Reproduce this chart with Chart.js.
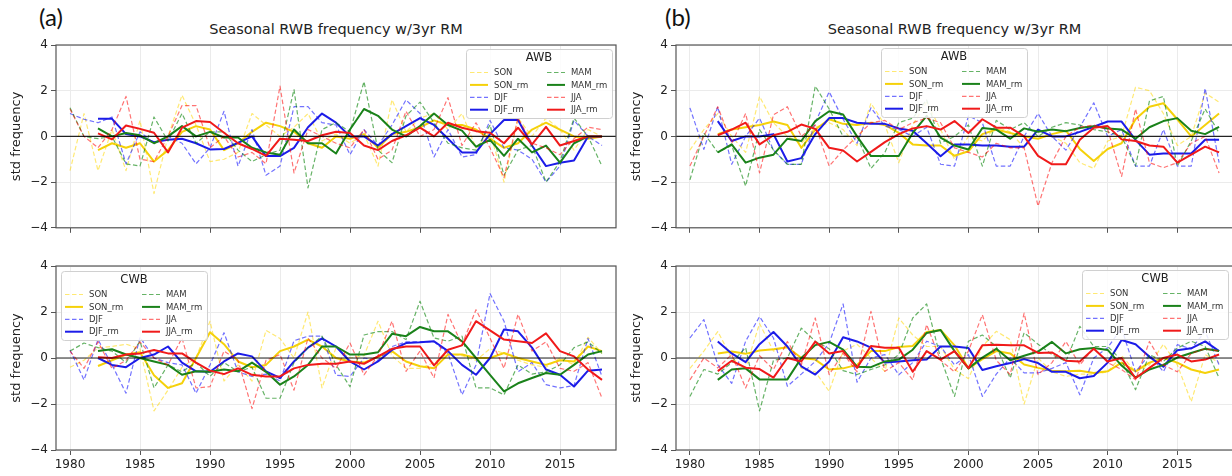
<!DOCTYPE html>
<html>
<head>
<meta charset="utf-8">
<script src="https://cdn.jsdelivr.net/npm/chart.js@4"></script>
<style>
  html, body { margin: 0; padding: 0; background: #fff; overflow: hidden; }
  #page { position: relative; width: 1232px; height: 476px; overflow: hidden; }
  canvas { position: absolute; }
  .panel-tag { position: absolute; font-family: Lato, "Open Sans", sans-serif; font-size: 24px; color: #111; }
  .panel-title { position: absolute; text-align: center; font-family: "DejaVu Sans", sans-serif; font-size: 14.5px; color: #222; }
</style>
</head>
<body>
<div id="page">
  <div class="panel-tag" style="left:39px; top:2px;">(a)</div>
  <div class="panel-tag" style="left:665px; top:2px;">(b)</div>
  <div class="panel-title" style="left:56px; width:560px; top:21px;">Seasonal RWB frequency w/3yr RM</div>
  <div class="panel-title" style="left:676px; width:557px; top:21px;">Seasonal RWB frequency w/3yr RM</div>
  <canvas id="awbA" width="620" height="238" style="left:0; top:0;"></canvas>
  <canvas id="awbB" width="620" height="238" style="left:620px; top:0;"></canvas>
  <canvas id="cwbA" width="620" height="238" style="left:0; top:238px;"></canvas>
  <canvas id="cwbB" width="620" height="238" style="left:620px; top:238px;"></canvas>
</div>
<script>
// years of the raw series; the 3yr running means start at 1982
const years = [1980,1981,1982,1983,1984,1985,1986,1987,1988,1989,
               1990,1991,1992,1993,1994,1995,1996,1997,1998,1999,
               2000,2001,2002,2003,2004,2005,2006,2007,2008,2009,
               2010,2011,2012,2013,2014,2015,2016,2017,2018];
const tickYears = [1980, 1985, 1990, 1995, 2000, 2005, 2010, 2015];
const yTicks = [-4, -2, 0, 2, 4];
const seasons = ["SON", "DJF", "MAM", "JJA"];

// (a) AWB
const a_awb_son = [-1.5,1.0,-1.5,0.3,-1.5,0.7,-2.5,0.0,1.8,0.5,-1.1,-1.0,-0.7,1.0,0.5,0.0,0.4,1.0,-0.2,0.1,-0.3,0.1,-1.3,1.6,0.2,0.8,1.0,0.3,1.0,-0.5,0.2,-2.0,0.8,0.0,0.8,0.3,-0.6,0.3,0.0];
const a_awb_son_rm = [-0.6,-0.3,-0.5,-0.3,-1.1,-0.6,0.2,0.45,0.3,-0.6,-0.3,0.2,0.6,0.45,0.2,-0.3,-0.5,0.0,-0.1,0.1,-0.5,0.1,0.2,0.4,0.7,0.5,0.5,0.3,-0.1,-0.5,-0.3,0.3,0.6,0.3,0.0,-0.1,0.0];
const a_awb_djf = [1.0,0.75,0.6,0.85,-1.2,0.2,-0.3,0.0,-0.3,-1.2,-0.5,1.1,-1.3,0.3,-1.7,-1.3,1.3,1.3,0.6,0.5,-0.8,0.3,-0.4,0.5,1.6,1.0,-0.9,0.3,-0.9,-0.8,0.7,-0.5,-0.6,-1.0,-2.0,-1.3,0.7,0.0,-0.4];
const a_awb_djf_rm = [0.77,0.77,0.1,0.0,-0.25,-0.15,-0.1,-0.3,-0.57,-0.55,-0.28,0.0,-0.86,-0.86,-0.5,0.4,1.0,0.6,0.0,0.0,-0.4,0.1,0.45,0.8,0.5,-0.1,-0.7,-0.7,0.1,0.72,0.72,-0.4,-1.3,-1.15,-1.05,0.0,0.0];
const a_awb_mam = [1.25,0.0,-0.1,0.0,-1.2,-1.3,0.85,-0.2,1.0,-0.3,0.2,0.2,-0.6,-1.1,-0.8,-0.6,2.05,-2.25,0.3,0.6,0.2,2.4,-0.6,-1.15,0.9,1.5,0.6,-0.3,-0.5,-0.6,0.5,-1.7,-0.6,-0.4,-2.0,-1.1,0.8,0.0,-1.3];
const a_awb_mam_rm = [0.35,0.0,0.15,0.05,-0.3,0.0,0.45,0.0,0.2,-0.05,-0.05,-0.5,-0.7,-0.8,0.3,-0.3,-0.3,-0.75,0.3,1.2,0.9,0.3,0.0,0.45,1.0,0.5,0.25,-0.45,-0.15,-0.85,-0.1,-0.7,-0.4,-1.15,-0.3,0.0,0.0];
const a_awb_jja = [1.2,0.0,-0.5,0.3,1.75,-1.0,-1.1,0.0,1.35,1.35,-0.5,0.0,-0.9,-0.7,-1.2,2.2,-1.6,0.3,0.0,-0.3,-0.5,0.3,-1.0,-0.6,1.1,0.0,0.3,1.7,-0.4,0.6,-0.5,-1.8,0.8,-0.3,-0.5,-0.8,-0.1,0.4,0.3];
const a_awb_jja_rm = [0.13,-0.13,0.48,0.33,0.16,-0.7,0.38,0.67,0.63,0.16,-0.3,-0.55,-0.85,-0.1,-0.15,-0.2,0.05,0.2,0.15,-0.4,-0.6,-0.2,0.05,0.38,0.0,0.6,0.38,0.23,0.16,-0.3,0.38,-0.35,0.42,-0.4,-0.2,0.0,0.0];

// (b) AWB
const b_awb_son = [-0.6,0.3,1.0,0.0,-0.7,1.75,0.6,0.0,-0.3,0.4,0.6,0.3,-0.4,1.45,0.5,-1.15,0.5,1.5,0.3,-1.0,0.0,-0.2,0.4,0.2,-0.5,0.3,0.0,-0.3,-1.15,-1.4,-0.2,0.0,2.15,2.0,1.0,-0.4,0.0,1.9,1.5];
const b_awb_son_rm = [0.1,0.3,0.4,0.5,0.65,0.5,-0.5,0.3,0.75,0.55,0.5,0.6,0.5,0.15,-0.35,-0.4,-0.4,-0.85,-0.65,0.1,0.3,0.15,0.0,-0.1,0.1,0.25,-0.55,-1.08,-0.55,-0.3,0.75,1.3,1.45,0.75,0.0,0.5,1.0];
const b_awb_djf = [1.25,-0.57,1.3,-1.22,0.0,0.8,-0.6,-1.22,-1.22,0.6,1.95,0.75,-0.3,1.25,0.45,0.3,0.0,0.4,-1.22,-1.3,0.9,0.6,-1.3,-1.3,0.0,1.0,0.0,-0.6,0.4,1.47,0.0,0.3,-1.3,-1.3,0.3,-1.3,-1.3,2.1,-1.15];
const b_awb_djf_rm = [0.67,-0.2,0.0,0.0,0.1,-1.1,-0.95,0.1,0.8,0.8,0.6,0.55,0.55,0.35,0.25,-0.3,-0.87,-0.35,-0.35,-0.4,-0.4,-0.45,-0.45,0.3,0.0,0.0,0.2,0.42,0.65,0.65,-0.15,-0.8,-0.75,-0.75,-0.75,-0.15,-0.15];
const b_awb_mam = [-1.9,0.15,-0.7,-0.4,-2.17,0.3,-0.6,-1.22,-1.22,2.2,1.2,0.0,0.0,-1.4,-0.7,0.6,0.8,1.6,-0.3,0.0,0.5,-1.3,0.7,0.3,0.6,0.0,0.4,0.6,0.5,0.3,0.2,0.0,-1.3,1.55,1.75,-1.3,-0.2,1.2,0.15];
const b_awb_mam_rm = [-0.7,-0.35,-1.15,-0.93,-0.8,-0.1,-0.2,0.67,1.1,0.96,0.0,-0.86,-0.86,-0.86,0.15,0.9,-0.05,-0.4,-0.57,0.37,0.3,-0.1,0.35,0.2,0.3,0.23,0.37,0.45,0.35,0.3,-0.1,0.4,0.67,0.8,0.25,0.1,0.42];
const b_awb_jja = [-1.3,0.0,1.3,-0.3,1.0,-1.6,0.95,1.3,0.0,0.5,-1.3,-0.6,0.0,0.6,0.7,0.3,0.6,0.8,0.6,-0.5,-0.7,-0.9,-0.3,-0.5,-0.5,-3.05,-1.15,0.0,0.4,0.5,0.3,-1.75,1.2,-1.15,-1.37,-1.15,-0.3,0.0,-1.6];
const b_awb_jja_rm = [0.05,0.3,0.6,-0.35,0.05,0.2,0.52,0.33,-0.5,-0.62,-1.1,-0.68,-0.25,0.1,0.35,0.45,0.3,0.67,0.15,0.75,0.38,0.38,0.0,-0.85,-1.22,-1.22,-0.15,0.38,0.45,-0.13,-0.2,-0.4,-0.45,-1.15,-0.8,-0.45,-0.7];

// (a) CWB
const a_cwb_son = [-0.4,-0.1,0.45,0.5,0.6,0.4,-2.3,-1.4,-0.4,0.0,1.6,-1.0,-0.3,-1.0,1.2,0.85,0.0,2.0,-1.3,0.45,0.0,0.1,1.6,0.1,-0.45,-0.45,-0.2,0.2,0.1,-0.1,0.4,0.2,-0.1,-0.3,-0.4,0.0,-0.3,0.9,0.2];
const a_cwb_son_rm = [-0.35,-0.1,0.15,0.25,-0.75,-1.3,-1.1,0.0,1.12,0.6,-0.15,-0.4,-0.3,0.3,0.5,0.8,0.5,0.0,-0.15,-0.2,0.05,0.3,-0.15,-0.36,-0.45,0.15,0.15,0.0,0.0,0.22,0.0,-0.15,-0.3,-0.1,-0.15,0.5,0.3];
const a_cwb_djf = [0.35,-0.95,0.8,-0.3,-1.53,0.9,0.0,-0.2,-0.3,-1.53,-0.3,1.1,-0.6,-0.8,-0.7,-1.0,0.75,0.95,0.95,-0.75,-0.8,0.0,-0.1,0.5,0.7,0.7,0.7,0.2,-1.6,-0.3,2.8,1.6,-0.6,-0.2,-1.16,-1.3,-1.2,0.85,-0.8];
const a_cwb_djf_rm = [0.0,-0.3,-0.4,0.0,0.15,0.5,-0.2,-0.58,-0.6,-0.15,0.2,0.07,-0.58,-0.87,-0.15,0.45,0.85,0.5,-0.15,-0.5,-0.15,0.35,0.65,0.68,0.73,0.3,-0.3,-0.73,0.0,1.24,1.16,0.45,-0.5,-0.73,-1.24,-0.55,-0.5];
const a_cwb_mam = [0.3,0.65,0.45,0.3,-0.2,0.73,-1.3,-0.3,-0.6,-0.2,-0.8,-0.2,-0.6,-0.4,-1.75,-1.75,-0.2,0.45,0.95,-0.3,-1.25,1.0,1.15,1.15,0.8,2.47,0.87,0.73,0.95,-1.3,-1.3,-1.6,-0.3,-0.7,-0.6,-0.3,0.45,0.7,0.2];
const a_cwb_mam_rm = [0.3,0.38,0.15,0.0,-0.15,-0.3,-0.73,-0.58,-0.6,-0.5,-0.58,-0.2,-0.6,-1.16,-0.8,-0.3,0.5,0.5,0.15,0.15,0.25,1.05,0.95,1.35,1.16,1.16,0.73,0.0,-0.73,-1.45,-1.1,-0.87,-0.65,-0.73,-0.3,0.15,0.3];
const a_cwb_jja = [0.3,-0.45,0.7,-0.45,-0.1,0.7,0.0,-0.3,0.87,-1.3,-1.25,0.3,-0.1,-2.2,-0.1,0.15,-1.4,0.87,0.0,-0.45,0.65,-0.73,0.1,1.6,-0.58,0.3,-0.87,1.9,0.58,2.1,0.87,-0.45,1.9,0.3,0.7,-0.45,-0.58,-0.2,-1.75];
const a_cwb_jja_rm = [0.03,0.0,0.15,0.2,0.35,0.2,0.2,-0.2,-0.55,-0.7,-0.45,-0.73,-0.8,-0.8,-0.45,-0.3,-0.25,-0.25,-0.15,-0.25,0.07,0.4,0.5,0.5,-0.32,0.36,0.55,1.6,1.2,0.8,0.73,0.65,1.07,0.3,0.07,-0.5,-0.95];

// (b) CWB
const b_cwb_son = [-0.45,0.3,1.15,0.0,-0.45,1.5,0.3,0.5,-0.45,-0.6,-1.45,0.3,0.6,0.0,-0.58,1.74,1.0,0.5,0.5,-0.5,-0.9,0.5,1.16,0.8,-2.0,0.0,-0.6,-0.8,-0.7,-0.7,-0.6,0.1,-0.6,-0.3,0.6,-0.3,-1.9,0.15,-0.2];
const b_cwb_son_rm = [0.2,0.28,0.18,0.33,0.38,0.47,0.0,-0.07,-0.5,-0.45,-0.3,0.3,0.3,0.48,0.52,1.13,1.22,0.55,-0.45,-0.05,0.3,0.2,-0.28,-0.43,-0.55,-0.58,-0.55,-0.65,-0.58,-0.2,-0.58,-0.2,0.0,-0.2,-0.5,-0.65,-0.5];
const b_cwb_djf = [0.87,1.67,-0.3,-1.1,0.73,1.8,0.87,-1.23,-0.7,-0.15,0.65,2.35,-1.05,0.0,0.15,-0.73,-0.2,0.73,0.5,-0.3,0.15,-1.67,-0.7,0.0,-0.65,-0.65,-0.45,-0.2,-1.6,0.0,0.45,1.3,-0.6,0.15,-0.6,0.58,0.4,1.16,-0.3];
const b_cwb_djf_rm = [0.72,0.2,-0.18,0.6,1.13,0.5,-0.36,-0.72,-0.15,0.9,0.72,0.45,-0.2,-0.15,-0.1,-0.07,0.5,0.5,0.43,-0.52,-0.36,-0.22,-0.05,-0.22,-0.6,-0.6,-0.88,-0.78,-0.2,0.78,0.6,0.05,-0.38,0.34,0.42,0.72,0.3];
const b_cwb_mam = [-1.67,-0.5,-0.7,-0.2,0.45,-2.3,-0.1,0.0,1.3,0.73,0.4,-0.55,-0.72,-0.5,-0.3,0.15,1.74,2.35,0.0,-1.67,0.73,1.0,0.5,-0.87,1.1,0.6,0.15,-0.15,1.38,0.5,0.5,-0.1,-1.38,0.15,-0.15,0.43,0.73,0.5,-0.87];
const b_cwb_mam_rm = [-0.95,-0.5,-0.45,-0.93,-0.93,-0.93,0.0,0.56,0.7,0.36,-0.38,-0.4,-0.15,-0.07,0.36,1.09,1.22,0.3,-0.45,0.02,0.4,-0.1,0.1,0.28,0.7,0.2,0.38,0.43,0.35,-0.33,-0.85,-0.5,-0.3,0.02,0.22,0.4,0.3];
const b_cwb_jja = [-0.95,0.0,-0.43,0.15,-1.3,0.1,-0.5,0.72,-0.3,1.74,-0.72,0.2,-0.6,2.03,-0.58,-0.2,-0.95,1.45,-0.1,-0.6,0.3,1.88,-0.1,-0.72,1.95,-0.72,-0.2,0.72,-0.3,0.43,-0.2,-0.5,-0.95,0.72,-0.3,-0.6,0.2,0.4,0.3];
const b_cwb_jja_rm = [-0.57,-0.12,-0.42,-0.48,-0.85,0.0,-0.15,0.71,0.2,0.3,-0.43,0.52,0.45,0.45,-0.6,0.3,-0.07,0.3,-0.44,0.55,0.58,0.55,0.55,0.22,0.24,-0.12,-0.15,0.4,-0.15,0.0,-0.88,-0.43,0.0,0.15,-0.15,-0.07,0.15];

// raw = dashed + faded, rm = solid
const seasonColors = {
    SON: { raw: "rgba(255, 215, 0, 0.55)", rm: "#f5d10a" },
    DJF: { raw: "rgba(20, 20, 255, 0.6)",  rm: "#1c1ce8" },
    MAM: { raw: "rgba(0, 128, 0, 0.6)",    rm: "#1a821a" },
    JJA: { raw: "rgba(255, 0, 0, 0.55)",   rm: "#f01a1a" }
};

function toPoints(values, startYear) {
    const offset = years.indexOf(startYear);
    return values.map((v, i) => ({ x: years[i + offset], y: v }));
}

function buildDatasets(series) {
    // legend order (column-wise, 2 cols): SON, SON_rm, DJF, DJF_rm, MAM, MAM_rm, JJA, JJA_rm
    const out = [];
    seasons.forEach(s => {
        const c = seasonColors[s];
        out.push({
            label: s,
            data: toPoints(series[s][0], 1980),
            borderColor: c.raw,
            borderWidth: 1.2,
            borderDash: [4.5, 2.5]
        });
        out.push({
            label: s + "_rm",
            data: toPoints(series[s][1], 1982),
            borderColor: c.rm,
            borderWidth: 2
        });
    });
    // later series on top, like matplotlib
    out.forEach((d, i) => { d.order = out.length - i; });
    return out;
}

// frame, zero line and the boxed legend drawn inside the axes
const axesDecor = {
    id: "axesDecor",
    afterDatasetsDraw(chart) {
        const { ctx, chartArea: a, scales } = chart;
        const y0 = scales.y.getPixelForValue(0);
        ctx.save();
        ctx.strokeStyle = "rgba(0,0,0,0.85)";
        ctx.lineWidth = 1.2;
        ctx.beginPath();
        ctx.moveTo(a.left, y0);
        ctx.lineTo(a.right, y0);
        ctx.stroke();
        ctx.strokeStyle = "#555";
        ctx.lineWidth = 1.2;
        ctx.strokeRect(a.left, a.top, a.right - a.left, a.bottom - a.top);
        ctx.restore();
    },
    afterDraw(chart, args, opts) {
        const { ctx, chartArea: a } = chart;
        const w = 146, h = 69;
        const left = opts.side === "right" ? a.right - opts.dx - w : a.left + opts.dx;
        const top = a.top + opts.dy;
        ctx.save();
        ctx.fillStyle = "rgba(255,255,255,0.85)";
        ctx.strokeStyle = "#d0d0d0";
        ctx.lineWidth = 1;
        ctx.beginPath();
        ctx.roundRect(left + 0.5, top + 0.5, w, h, 3);
        ctx.fill();
        ctx.stroke();

        ctx.fillStyle = "#222";
        ctx.font = "11.5px 'DejaVu Sans'";
        ctx.textAlign = "center";
        ctx.textBaseline = "middle";
        ctx.fillText(opts.title, left + w / 2, top + 9);

        ctx.font = "8.5px 'DejaVu Sans'";
        ctx.textAlign = "left";
        chart.data.datasets.forEach((ds, i) => {
            const col = Math.floor(i / 4), row = i % 4;
            const x0 = left + 4 + col * 77;
            const y = top + 23.5 + row * 12.4;
            ctx.strokeStyle = ds.borderColor;
            ctx.lineWidth = ds.borderWidth;
            ctx.setLineDash(ds.borderDash || []);
            ctx.beginPath();
            ctx.moveTo(x0, y);
            ctx.lineTo(x0 + 18, y);
            ctx.stroke();
            ctx.setLineDash([]);
            ctx.fillStyle = "#333";
            ctx.fillText(ds.label, x0 + 24, y + 0.5);
        });
        ctx.restore();
    }
};

function makePanel(canvasId, series, legend, padTop, padRight, showYears) {
    const tickFont = { family: "DejaVu Sans", size: 12 };
    return new Chart(document.getElementById(canvasId), {
        type: "line",
        data: { datasets: buildDatasets(series) },
        options: {
            responsive: false,
            animation: false,
            devicePixelRatio: 1,
            layout: { padding: { top: padTop, right: padRight, left: 0, bottom: 0 } },
            elements: {
                point: { radius: 0, hoverRadius: 0 },
                line: { tension: 0, borderJoinStyle: "round", fill: false }
            },
            plugins: {
                legend: { display: false },
                tooltip: { enabled: false },
                axesDecor: legend
            },
            scales: {
                x: {
                    type: "linear",
                    min: 1979,
                    max: 2019,
                    afterBuildTicks: s => { s.ticks = tickYears.map(v => ({ value: v })); },
                    afterFit: s => { s.height = showYears ? 26 : 10; },
                    border: { display: false },
                    grid: { color: "#ebebeb", lineWidth: 1, tickLength: 5, tickColor: "#555" },
                    ticks: {
                        display: showYears,
                        font: tickFont,
                        color: "#222",
                        padding: 3,
                        maxRotation: 0,
                        callback: v => String(v)
                    }
                },
                y: {
                    min: -4,
                    max: 4,
                    afterBuildTicks: s => { s.ticks = yTicks.map(v => ({ value: v })); },
                    afterFit: s => { s.width = 56; },
                    border: { display: false },
                    grid: { color: "#ebebeb", lineWidth: 1, tickLength: 5, tickColor: "#555" },
                    ticks: {
                        font: tickFont,
                        color: "#222",
                        padding: 3,
                        callback: v => String(v).replace("-", "\u2212")
                    },
                    title: {
                        display: true,
                        text: "std frequency",
                        font: { family: "DejaVu Sans", size: 13 },
                        color: "#222",
                        padding: { top: 9, bottom: 0 }
                    }
                }
            }
        },
        plugins: [axesDecor]
    });
}

makePanel("awbA", {
    SON: [a_awb_son, a_awb_son_rm], DJF: [a_awb_djf, a_awb_djf_rm],
    MAM: [a_awb_mam, a_awb_mam_rm], JJA: [a_awb_jja, a_awb_jja_rm]
}, { title: "AWB", side: "right", dx: 4, dy: 4 }, 45, 4, false);

makePanel("awbB", {
    SON: [b_awb_son, b_awb_son_rm], DJF: [b_awb_djf, b_awb_djf_rm],
    MAM: [b_awb_mam, b_awb_mam_rm], JJA: [b_awb_jja, b_awb_jja_rm]
}, { title: "AWB", side: "left", dx: 205, dy: 3 }, 45, 7, false);

makePanel("cwbA", {
    SON: [a_cwb_son, a_cwb_son_rm], DJF: [a_cwb_djf, a_cwb_djf_rm],
    MAM: [a_cwb_mam, a_cwb_mam_rm], JJA: [a_cwb_jja, a_cwb_jja_rm]
}, { title: "CWB", side: "left", dx: 5, dy: 5 }, 28, 4, true);

makePanel("cwbB", {
    SON: [b_cwb_son, b_cwb_son_rm], DJF: [b_cwb_djf, b_cwb_djf_rm],
    MAM: [b_cwb_mam, b_cwb_mam_rm], JJA: [b_cwb_jja, b_cwb_jja_rm]
}, { title: "CWB", side: "right", dx: 5, dy: 4 }, 28, 7, true);
</script>
</body>
</html>
